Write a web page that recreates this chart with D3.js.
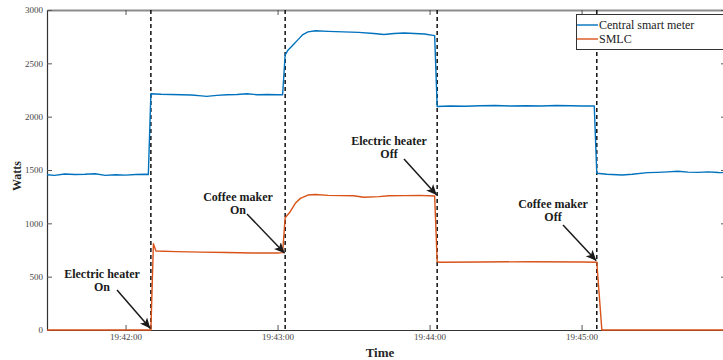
<!DOCTYPE html>
<html>
<head>
<meta charset="utf-8">
<script src="https://cdn.jsdelivr.net/npm/d3@7"></script>
<style>
  html, body { margin: 0; padding: 0; background: #fff; }
  svg { display: block; }
  text { font-family: "Liberation Serif", "Times New Roman", serif; }
</style>
</head>
<body>
<svg id="chart" width="723" height="360"></svg>
<script>
// Central smart meter readings (W)
const meterTimes = ["19:41:29","19:41:32","19:41:36","19:41:40","19:41:44","19:41:48","19:41:52","19:41:56","19:42:00","19:42:04","19:42:08","19:42:09",
  "19:42:10","19:42:14","19:42:18","19:42:22","19:42:26","19:42:30","19:42:32","19:42:36","19:42:40","19:42:44","19:42:48","19:42:52","19:42:56","19:43:00","19:43:02",
  "19:43:03","19:43:04","19:43:06","19:43:08","19:43:10","19:43:12","19:43:15","19:43:20","19:43:26","19:43:32","19:43:38","19:43:42","19:43:46","19:43:50","19:43:54","19:43:58","19:44:02",
  "19:44:03","19:44:08","19:44:14","19:44:20","19:44:26","19:44:32","19:44:38","19:44:44","19:44:50","19:44:56","19:45:00","19:45:05",
  "19:45:06","19:45:10","19:45:16","19:45:20","19:45:26","19:45:30","19:45:34","19:45:38","19:45:42","19:45:46","19:45:50","19:45:54","19:45:57"];
const meterWatts = [1455,1450,1462,1458,1460,1465,1450,1455,1452,1458,1460,1458,
  2215,2210,2208,2205,2203,2195,2190,2200,2205,2208,2215,2205,2208,2205,2205,
  2580,2620,2670,2720,2770,2795,2805,2800,2795,2790,2780,2770,2780,2785,2780,2775,2760,
  2095,2100,2098,2102,2105,2100,2103,2100,2105,2102,2100,2100,
  1470,1460,1453,1460,1475,1478,1482,1488,1480,1478,1482,1476,1475];

// SMLC readings (W)
const smlcTimes = ["19:41:29","19:42:10","19:42:11","19:42:12","19:42:20","19:42:30","19:42:40","19:42:50","19:43:00","19:43:02",
  "19:43:03","19:43:05","19:43:07","19:43:09","19:43:12","19:43:15","19:43:20","19:43:30","19:43:34","19:43:40","19:43:44","19:43:50","19:43:56","19:44:02",
  "19:44:03","19:44:04","19:44:20","19:44:40","19:45:00","19:45:06","19:45:08","19:45:57"];
const smlcWatts = [0,0,810,740,735,730,726,722,722,725,
  1053,1109,1188,1234,1265,1270,1262,1258,1245,1250,1258,1260,1262,1256,
  640,635,638,640,638,635,0,0];

// Switching events (dashed markers) and their annotations
const eventTimes = ["19:42:10","19:43:03","19:44:03","19:45:06"];
const eventLabels = [["Electric heater","On"],["Coffee maker","On"],["Electric heater","Off"],["Coffee maker","Off"]];
const eventWatts = [15,720,1265,650];

const yTicks = [0,500,1000,1500,2000,2500,3000];
const xTicks = ["19:42:00","19:43:00","19:44:00","19:45:00"];
const seriesNames = ["Central smart meter","SMLC"];
const seriesColors = ["#0072BD","#D95319"];

const parse = d3.timeParse("%H:%M:%S");
const fmt = d3.timeFormat("%H:%M:%S");

const svg = d3.select("#chart");
const padL = 47, padR = 726, padT = 10, padB = 330;

const x = d3.scaleTime()
  .domain([parse("19:41:29"), parse("19:45:57")])
  .range([padL, padR]);
const y = d3.scaleLinear().domain([0, 3000]).range([padB, padT]);

const defs = svg.append("defs");
defs.append("clipPath").attr("id", "plotclip")
  .append("rect").attr("x", padL).attr("y", padT - 1).attr("width", padR - padL).attr("height", padB - padT + 2);
defs.append("marker").attr("id", "arrowhead")
  .attr("viewBox", "0 0 10 10").attr("refX", 10).attr("refY", 5)
  .attr("markerWidth", 7).attr("markerHeight", 7).attr("markerUnits", "strokeWidth")
  .attr("orient", "auto")
  .append("path").attr("d", "M0,0.5 L10,5 L0,9.5 L2.5,5 Z").attr("fill", "#1a1a1a");

// Axes
const tickColor = "#333";
const xAxisB = d3.axisBottom(x).tickValues(xTicks.map(parse)).tickFormat(fmt).tickSizeInner(-5).tickSizeOuter(0).tickPadding(4);
const xAxisT = d3.axisTop(x).tickValues(xTicks.map(parse)).tickFormat("").tickSizeInner(-5).tickSizeOuter(0);
const yAxisL = d3.axisLeft(y).tickValues(yTicks).tickFormat(d3.format("d")).tickSizeInner(-5).tickSizeOuter(0).tickPadding(4);
const yAxisR = d3.axisRight(y).tickValues(yTicks).tickFormat("").tickSizeInner(-5).tickSizeOuter(0);

function styleAxis(g, stroke, width) {
  g.select(".domain").attr("stroke", stroke).attr("stroke-width", width);
  g.selectAll(".tick line").attr("stroke", "#555").attr("stroke-width", 1);
  g.selectAll(".tick text").attr("fill", "#444").attr("font-size", 9)
    .attr("font-family", "'Liberation Serif', 'Times New Roman', serif");
}

svg.append("g").attr("transform", `translate(0,${padT})`).call(xAxisT).call(g => styleAxis(g, "#8c8c8c", 2));
svg.append("g").attr("transform", `translate(${padR},0)`).call(yAxisR).call(g => styleAxis(g, "#8c8c8c", 1));
svg.append("g").attr("transform", `translate(${padL},0)`).call(yAxisL).call(g => styleAxis(g, tickColor, 1.2));
svg.append("g").attr("transform", `translate(0,${padB})`).call(xAxisB).call(g => styleAxis(g, tickColor, 1.2));

// Event markers
svg.append("g").selectAll("line").data(eventTimes).join("line")
  .attr("x1", d => x(parse(d))).attr("x2", d => x(parse(d)))
  .attr("y1", padT).attr("y2", padB)
  .attr("stroke", "#111").attr("stroke-width", 1.5).attr("stroke-dasharray", "4,3");

// Series lines
const line = d3.line().x(d => x(d[0])).y(d => y(d[1]));
const meter = meterTimes.map((t, i) => [parse(t), meterWatts[i]]);
const smlc = smlcTimes.map((t, i) => [parse(t), smlcWatts[i]]);
const plot = svg.append("g").attr("clip-path", "url(#plotclip)");
plot.append("path").datum(meter).attr("d", line)
  .attr("fill", "none").attr("stroke", seriesColors[0]).attr("stroke-width", 1.4).attr("stroke-linejoin", "round");
plot.append("path").datum(smlc).attr("d", line)
  .attr("fill", "none").attr("stroke", seriesColors[1]).attr("stroke-width", 1.4).attr("stroke-linejoin", "round");

// Annotations: text block and arrow pointing at each switching event
const annLayout = [
  { tx: 102, ty: 274, ax: 117, ay: 290 },
  { tx: 238, ty: 197, ax: 247, ay: 214 },
  { tx: 389, ty: 141, ax: 404, ay: 159 },
  { tx: 553, ty: 204, ax: 563, ay: 225 }
];
const ann = svg.append("g");
eventTimes.forEach((t, i) => {
  const L = annLayout[i];
  ann.append("line")
    .attr("x1", L.ax).attr("y1", L.ay)
    .attr("x2", x(parse(t)) - 0.5).attr("y2", y(eventWatts[i]))
    .attr("stroke", "#1a1a1a").attr("stroke-width", 1.5)
    .attr("marker-end", "url(#arrowhead)");
  eventLabels[i].forEach((s, j) => {
    ann.append("text")
      .attr("x", L.tx).attr("y", L.ty + j * 12.5)
      .attr("text-anchor", "middle").attr("dominant-baseline", "central")
      .attr("font-size", 12).attr("font-weight", "bold").attr("fill", "#1a1a1a")
      .text(s);
  });
});

// Axis titles
svg.append("text").attr("x", 380).attr("y", 352)
  .attr("text-anchor", "middle").attr("dominant-baseline", "central")
  .attr("font-size", 13).attr("font-weight", "bold").attr("fill", "#262626").text("Time");
svg.append("text").attr("transform", "translate(17,176) rotate(-90)")
  .attr("text-anchor", "middle").attr("dominant-baseline", "central")
  .attr("font-size", 12).attr("font-weight", "bold").attr("fill", "#262626").text("Watts");

// Legend
const lg = svg.append("g").attr("transform", "translate(576,14)");
lg.append("rect").attr("x", 0.5).attr("y", 0.5).attr("width", 160).attr("height", 35)
  .attr("fill", "#fff").attr("stroke", "#333").attr("stroke-width", 1);
seriesNames.forEach((n, i) => {
  const yy = 11 + i * 14;
  lg.append("line").attr("x1", 1).attr("x2", 22).attr("y1", yy).attr("y2", yy)
    .attr("stroke", seriesColors[i]).attr("stroke-width", 1.4);
  lg.append("text").attr("x", 23).attr("y", yy).attr("dominant-baseline", "central")
    .attr("font-size", 12).attr("font-weight", "normal").attr("fill", "#1a1a1a").text(n);
});
</script>
</body>
</html>
